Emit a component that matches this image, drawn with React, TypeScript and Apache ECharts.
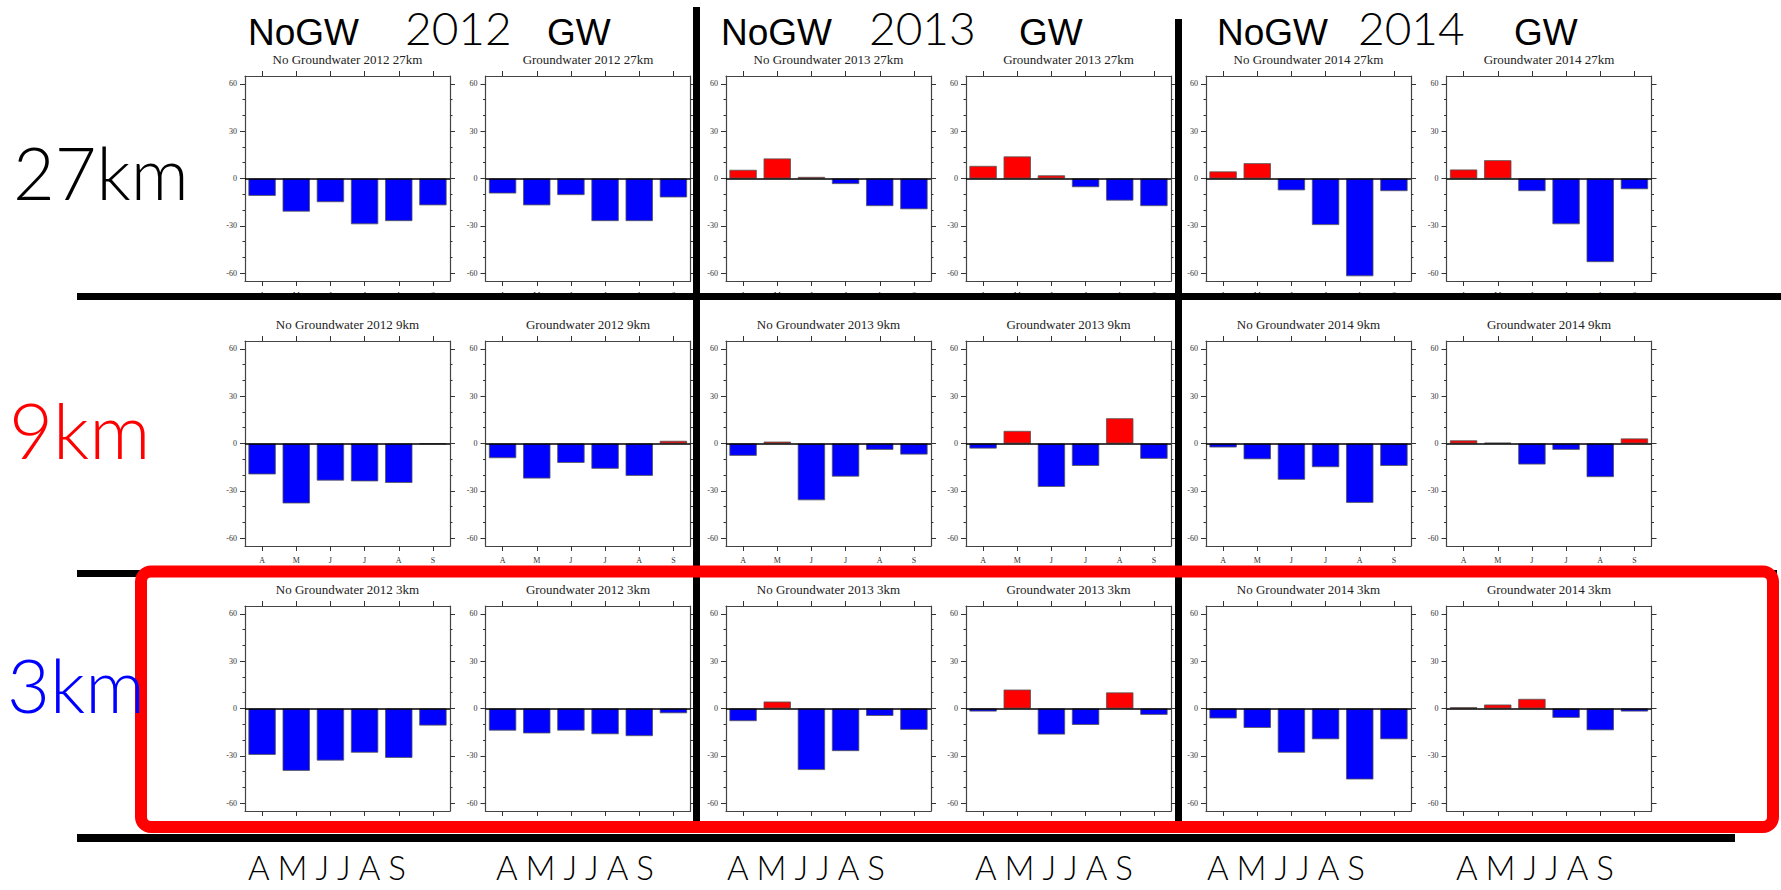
import { useEffect, useRef } from "react";
import * as echarts from "echarts";

// ---------- data ----------
const months = ["A", "M", "J", "J", "A", "S"];
const years = ["2012", "2013", "2014"];
const resolutions = ["27km", "9km", "3km"];
const resolutionColors = ["#000000", "#ff0000", "#0000ff"];
const yTickValues = [-60, -30, 0, 30, 60];
const yMinorTickValues = [-60, -50, -40, -30, -20, -10, 0, 10, 20, 30, 40, 50, 60];

// 27 km
const noGW_2012_27km = [-11, -21, -15, -29, -27, -17];
const gw_2012_27km = [-9.5, -17, -10.5, -27, -27, -12];
const noGW_2013_27km = [5.5, 12.7, 1, -3.5, -17.5, -19.5];
const gw_2013_27km = [8, 14, 2, -5.5, -14, -17.5];
const noGW_2014_27km = [4.5, 9.7, -7.5, -29.5, -62, -8];
const gw_2014_27km = [5.7, 11.6, -8, -29, -53, -6.8];
// 9 km
const noGW_2012_9km = [-19.6, -38, -23.5, -24, -25, -0.3];
const gw_2012_9km = [-9.3, -22.2, -12.3, -16, -20.5, 1.7];
const noGW_2013_9km = [-7.8, 1.2, -36, -21, -4, -7];
const gw_2013_9km = [-3.2, 8, -27.5, -14.2, 16, -9.7];
const noGW_2014_9km = [-2.5, -10, -23, -15, -37.6, -14.2];
const gw_2014_9km = [2, 0.5, -13.3, -4, -21.3, 3.2];
// 3 km
const noGW_2012_3km = [-29.4, -39.5, -33, -28, -31.3, -10.8];
const gw_2012_3km = [-14, -15.8, -14, -16.3, -17.5, -3];
const noGW_2013_3km = [-8, 4.4, -39, -27, -4.7, -13.5];
const gw_2013_3km = [-1.9, 12, -16.5, -10.4, 10.2, -4];
const noGW_2014_3km = [-6.3, -12.3, -28, -19.5, -45, -19.5];
const gw_2014_3km = [0.8, 2.5, 6.1, -5.9, -13.8, -1.9];

const rowsData = [
  [noGW_2012_27km, gw_2012_27km, noGW_2013_27km, gw_2013_27km, noGW_2014_27km, gw_2014_27km],
  [noGW_2012_9km, gw_2012_9km, noGW_2013_9km, gw_2013_9km, noGW_2014_9km, gw_2014_9km],
  [noGW_2012_3km, gw_2012_3km, noGW_2013_3km, gw_2013_3km, noGW_2014_3km, gw_2014_3km],
];

// ---------- layout ----------
const W = 1781;
const H = 890;
const colLeft = [245, 485.5, 726, 966, 1206, 1446.5];
const rowTop = [76, 341, 606];
const boxW = 205;
const boxH = 205;
const serif = "'Liberation Serif', 'Times New Roman', serif";
const sans = "'Liberation Sans', Arial, sans-serif";
const light = "Lato, 'Open Sans', 'Noto Sans', sans-serif";

function buildOption() {
  const grid: any[] = [];
  const xAxis: any[] = [];
  const yAxis: any[] = [];
  const series: any[] = [];
  const graphic: any[] = [];

  let gi = 0;
  for (let r = 0; r < 3; r++) {
    for (let c = 0; c < 6; c++) {
      const values = rowsData[r][c];
      const year = years[Math.floor(c / 2)];
      const isGW = c % 2 === 1;
      const title = `${isGW ? "Groundwater" : "No Groundwater"} ${year} ${resolutions[r]}`;
      grid.push({ left: colLeft[c], top: rowTop[r], width: boxW, height: boxH });

      const lineStyle = { color: "#444", width: 1.2 };
      const tickStyle = { color: "#333", width: 1 };
      const xb = xAxis.length;
      xAxis.push({
        type: "category",
        gridIndex: gi,
        data: months,
        position: "bottom",
        axisLine: { show: true, onZero: false, lineStyle },
        axisTick: { show: true, alignWithLabel: true, length: 5, lineStyle: tickStyle },
        axisLabel: { show: true, fontSize: 8, fontFamily: serif, color: "#333", margin: 10 },
        splitLine: { show: false },
      });
      xAxis.push({
        type: "category",
        gridIndex: gi,
        data: months,
        position: "top",
        axisLine: { show: true, onZero: false, lineStyle },
        axisTick: { show: true, alignWithLabel: true, length: 5, lineStyle: tickStyle },
        axisLabel: { show: false },
        splitLine: { show: false },
      });
      const yb = yAxis.length;
      for (const pos of ["left", "right"]) {
        yAxis.push({
          type: "value",
          gridIndex: gi,
          min: -65,
          max: 65,
          position: pos,
          axisLine: { show: true, onZero: false, lineStyle },
          axisTick: { show: true, customValues: yTickValues, length: 5, lineStyle: tickStyle },
          axisLabel: {
            show: pos === "left",
            customValues: yTickValues,
            fontSize: 8,
            fontFamily: serif,
            color: "#333",
            margin: 8,
          },
          splitLine: { show: false },
        });
        yAxis.push({
          type: "value",
          gridIndex: gi,
          min: -65,
          max: 65,
          position: pos,
          axisLine: { show: false },
          axisTick: { show: true, customValues: yMinorTickValues, length: 2.5, lineStyle: tickStyle },
          axisLabel: { show: false },
          splitLine: { show: false },
        });
      }
      series.push({
        type: "bar",
        xAxisIndex: xb,
        yAxisIndex: yb,
        data: values,
        barCategoryGap: "20%",
        itemStyle: {
          color: (p: any) => (p.value >= 0 ? "#ff0000" : "#0000ff"),
          borderColor: "#555",
          borderWidth: 0.8,
        },
        markLine: {
          silent: true,
          symbol: "none",
          label: { show: false },
          lineStyle: { color: "#000", width: 1.5, type: "solid" },
          data: [{ yAxis: 0 }],
        },
      });
      graphic.push({
        type: "text",
        x: colLeft[c] + boxW / 2,
        y: rowTop[r] - 17,
        style: {
          text: title,
          fontSize: 13,
          fontFamily: serif,
          fill: "#222",
          align: "center",
          verticalAlign: "middle",
        },
      });
      gi++;
    }
  }

  // black separator lines
  const blackRects = [
    { x: 77, y: 293, width: W - 77, height: 7 },
    { x: 77, y: 570, width: 1700, height: 7 },
    { x: 77, y: 834, width: 1658, height: 8 },
    { x: 693, y: 7, width: 7, height: 815 },
    { x: 1175, y: 19, width: 7, height: 803 },
  ];
  blackRects.forEach((s) =>
    graphic.push({ type: "rect", shape: s, style: { fill: "#000" }, z: 100 })
  );
  // red highlight box
  graphic.push({
    type: "rect",
    shape: { x: 141, y: 571.5, width: 1632, height: 255.5, r: 10 },
    style: { fill: "none", stroke: "#ff0000", lineWidth: 12 },
    z: 110,
  });

  // header annotations
  const noGWLeft = [248, 721, 1217];
  const yearLeft = [405, 869, 1358];
  const gwLeft = [547, 1019, 1514];
  for (let i = 0; i < 3; i++) {
    graphic.push({
      type: "text",
      x: noGWLeft[i],
      y: 32,
      z: 120,
      style: { text: "NoGW", fontSize: 37, fontFamily: sans, fill: "#000", align: "left", verticalAlign: "middle" },
    });
    graphic.push({
      type: "text",
      x: gwLeft[i],
      y: 32,
      z: 120,
      style: { text: "GW", fontSize: 37, fontFamily: sans, fill: "#000", align: "left", verticalAlign: "middle" },
    });
    graphic.push({
      type: "text",
      x: yearLeft[i],
      y: 27,
      z: 120,
      style: { text: years[i], fontSize: 46, fontWeight: 300, fontFamily: light, fill: "#000", align: "left", verticalAlign: "middle" },
    });
  }

  // resolution labels
  const resLeft = [13, 9, 7];
  const resY = [172, 429, 684];
  const resSize = [72, 76, 74];
  for (let r = 0; r < 3; r++) {
    graphic.push({
      type: "text",
      x: resLeft[r],
      y: resY[r],
      z: 120,
      style: {
        text: resolutions[r],
        fontSize: resSize[r],
        fontWeight: 300,
        fontFamily: light,
        fill: resolutionColors[r],
        align: "left",
        verticalAlign: "middle",
      },
    });
  }

  // large month labels at the bottom
  const monthLabelLeft = [248, 496, 727, 975, 1207, 1456];
  monthLabelLeft.forEach((x) =>
    graphic.push({
      type: "text",
      x,
      y: 867,
      z: 120,
      style: {
        text: months.join(" "),
        fontSize: 33,
        fontWeight: 300,
        fontFamily: light,
        fill: "#000",
        align: "left",
        verticalAlign: "middle",
      },
    })
  );

  return {
    animation: false,
    backgroundColor: "#ffffff",
    grid,
    xAxis,
    yAxis,
    series,
    graphic,
  };
}

export default function App() {
  const ref = useRef<HTMLDivElement>(null);
  useEffect(() => {
    if (!ref.current) return;
    const chart = echarts.init(ref.current, undefined, { renderer: "svg" });
    chart.setOption(buildOption() as any);
    return () => chart.dispose();
  }, []);
  return (
    <div
      ref={ref}
      style={{ position: "fixed", left: 0, top: 0, width: W, height: H, background: "#fff" }}
    />
  );
}
